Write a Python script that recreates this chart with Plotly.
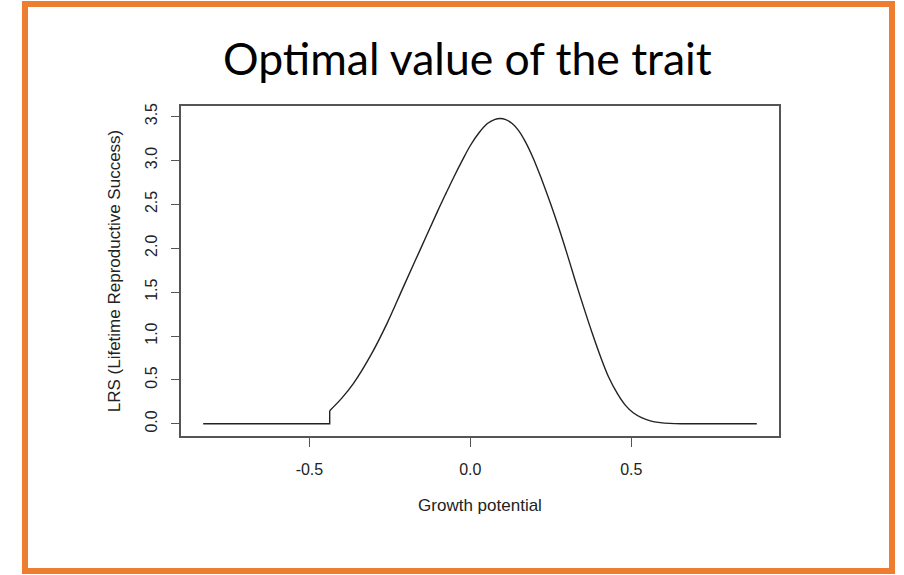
import plotly.graph_objects as go

# flat part of the curve, up to where it jumps
flat_x = [-0.83, -0.437, -0.437]
flat_y = [0.0, 0.0, 0.15]

# smooth part of the curve
curve_x = [-0.437, -0.40, -0.363, -0.311, -0.258, -0.208, -0.155, -0.102, -0.075, -0.05,
           -0.025, 0.0, 0.027, 0.053, 0.075, 0.093, 0.11, 0.13, 0.15, 0.17,
           0.196, 0.222, 0.248, 0.275, 0.301, 0.326, 0.351, 0.378, 0.404, 0.43,
           0.457, 0.482, 0.506, 0.532, 0.559, 0.59, 0.62, 0.66, 0.7, 0.8, 0.89]
curve_y = [0.15, 0.29, 0.46, 0.77, 1.15, 1.56, 1.99, 2.42, 2.63, 2.82,
           3.0, 3.17, 3.315, 3.42, 3.465, 3.477, 3.465, 3.42, 3.34, 3.22,
           3.02, 2.78, 2.52, 2.23, 1.93, 1.63, 1.34, 1.04, 0.77, 0.53,
           0.343, 0.21, 0.126, 0.07, 0.034, 0.014, 0.005, 0.001, 0.0, 0.0, 0.0]

x_ticks = [-0.5, 0.0, 0.5]
y_ticks = [0.0, 0.5, 1.0, 1.5, 2.0, 2.5, 3.0, 3.5]

fig = go.Figure()
fig.add_trace(go.Scatter(x=flat_x, y=flat_y, mode='lines',
                         line=dict(color='#222222', width=1.4)))
fig.add_trace(go.Scatter(x=curve_x, y=curve_y, mode='lines',
                         line=dict(color='#222222', width=1.4, shape='spline', smoothing=1.0)))

tick_font = dict(family='Liberation Sans, Arial, sans-serif', size=16, color='#222222')
title_font = dict(family='Liberation Sans, Arial, sans-serif', size=17, color='#222222')

fig.update_layout(
    width=904, height=575,
    margin=dict(l=181, r=125, t=106, b=139),
    paper_bgcolor='white', plot_bgcolor='white',
    showlegend=False,
    font=tick_font,
    xaxis=dict(
        range=[-0.899, 0.959],
        tickvals=x_ticks,
        ticktext=['%.1f' % v for v in x_ticks],
        tickfont=tick_font,
        ticks='outside', ticklen=9, tickwidth=1.2, tickcolor='#555555',
        ticklabelstandoff=9,
        showline=True, mirror=True, linecolor='#555555', linewidth=1.5,
        showgrid=False, zeroline=False,
        title=dict(text='Growth potential', standoff=22, font=title_font),
    ),
    yaxis=dict(
        range=[-0.139, 3.62],
        tickvals=y_ticks,
        ticktext=['%.1f' % v for v in y_ticks],
        tickfont=tick_font,
        tickangle=-90,
        ticks='outside', ticklen=8, tickwidth=1.2, tickcolor='#555555',
        ticklabelstandoff=8,
        showline=True, mirror=True, linecolor='#555555', linewidth=1.5,
        showgrid=False, zeroline=False,
        title=dict(text='LRS (Lifetime Reproductive Success)', standoff=18, font=title_font),
    ),
)

fig.add_annotation(
    text='Optimal value of the trait',
    xref='paper', yref='paper', x=0.479, y=1.147,
    xanchor='center', yanchor='middle', showarrow=False,
    font=dict(family='Lato, Open Sans, sans-serif', size=44.5, color='black'),
)

# orange frame round the whole slide
fig.add_shape(
    type='rect', xref='paper', yref='paper',
    x0=-0.2609, x1=1.189, y0=-0.409, y1=1.309,
    line=dict(color='#ED7D31', width=6),
)

# drop the page's default body margin so the figure sits at the window corner
fig.write_html("out.html",
               config={'displayModeBar': False},
               post_script="document.body.style.margin='0';document.body.style.overflow='hidden';")
